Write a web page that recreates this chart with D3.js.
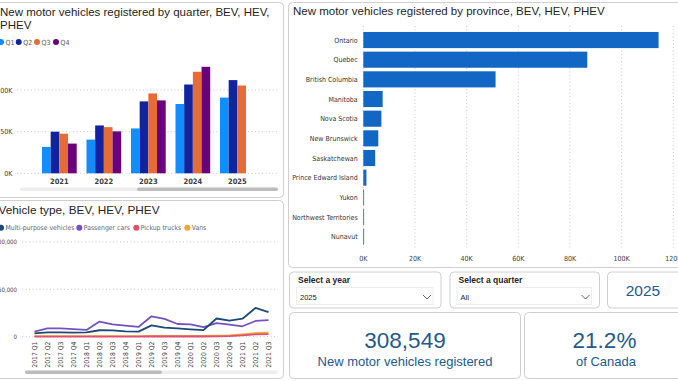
<!DOCTYPE html>
<html><head><meta charset="utf-8">
<script src="https://cdn.jsdelivr.net/npm/d3@7"></script>
<style>
html,body{margin:0;padding:0;background:#fff;overflow:hidden;}
svg{display:block;}
</style></head><body>
<svg id="c" width="678" height="381"></svg>
<script>
// ---------- DATA ----------
const years = ["2021","2022","2023","2024","2025"];
const quarters = ["Q1","Q2","Q3","Q4"];
const q1Values = [31700, 40500, 53900, 83300, 91000];
const q2Values = [50000, 57500, 86400, 106700, 112000];
const q3Values = [47600, 55500, 96000, 122000, 105500];
const q4Values = [35700, 50400, 87600, 128000, null];
const quarterTicks = [0, 50000, 100000];

const provinces = ["Ontario","Quebec","British Columbia","Manitoba","Nova Scotia","New Brunswick","Saskatchewan","Prince Edward Island","Yukon","Northwest Territories","Nunavut"];
const provinceValues = [114300, 86700, 51200, 7500, 7000, 5800, 4600, 1200, 300, 200, 150];
const provinceTicks = [0, 20000, 40000, 60000, 80000, 100000, 120000];

const periods = ["2017 Q1","2017 Q2","2017 Q3","2017 Q4","2018 Q1","2018 Q2","2018 Q3","2018 Q4","2019 Q1","2019 Q2","2019 Q3","2019 Q4","2020 Q1","2020 Q2","2020 Q3","2020 Q4","2021 Q1","2021 Q2","2021 Q3"];
const vehicleTypes = ["Multi-purpose vehicles","Passenger cars","Pickup trucks","Vans"];
const multiPurpose = [3500, 4600, 4600, 4300, 4600, 6800, 6700, 5600, 5300, 12000, 9600, 8800, 7800, 6900, 19200, 17000, 19000, 30300, 26000];
const passengerCars = [5400, 8800, 8700, 7900, 7100, 16000, 13000, 11600, 10300, 21500, 18800, 13400, 13000, 10200, 14300, 12800, 11000, 16600, 17400];
const pickupTrucks = [100, 100, 100, 100, 100, 150, 150, 150, 150, 200, 200, 200, 200, 200, 300, 600, 1500, 2500, 2800];
const vans = [600, 600, 600, 600, 600, 700, 700, 700, 700, 800, 800, 800, 800, 800, 1000, 1500, 2500, 3800, 4200];
const lineTicks = [0, 50000, 100000];

const kpiTotal = 308549;
const kpiShare = "21.2%";
const selectedYear = "2025";
const selectedQuarter = "All";

// ---------- STYLE ----------
const titleFont = "'Liberation Sans', Arial, sans-serif";
const axisFont = "'Liberation Sans Narrow', 'DejaVu Sans Condensed', 'Liberation Sans', sans-serif";
const qColors = ["#118DFF","#12239E","#E66C37","#6B007B"];
const typeColors = ["#1A4A78","#7651C4","#E0506E","#F3A530"];
const kpiColor = "#255A8B";
const borderColor = "#cfcfcf";
const gridColor = "#c8c8c8";
const labelColor = "#404040";

const svg = d3.select("#c");
svg.append("rect").attr("width",678).attr("height",381).attr("fill","#fff");

function panel(x,y,w,h){
  svg.append("rect").attr("x",x+0.5).attr("y",y+0.5).attr("width",w).attr("height",h)
    .attr("rx",4).attr("fill","#fff").attr("stroke",borderColor).attr("stroke-width",1);
}

// ================= TOP-LEFT: by quarter =================
panel(-6, 2, 289, 195);
const tl = svg.append("g");
tl.append("text").attr("x",0).attr("y",15.5).attr("font-family",titleFont).attr("font-size",11.5)
  .attr("fill","#252423").text("New motor vehicles registered by quarter, BEV, HEV,");
tl.append("text").attr("x",0).attr("y",28.5).attr("font-family",titleFont).attr("font-size",11.5)
  .attr("fill","#252423").text("PHEV");

const legX = [1, 18.7, 37, 56];
quarters.forEach((q,i)=>{
  tl.append("circle").attr("cx",legX[i]).attr("cy",42).attr("r",3).attr("fill",qColors[i]);
  tl.append("text").attr("x",legX[i]+4.5).attr("y",44.5).attr("font-family",axisFont)
    .attr("font-size",7).attr("fill","#555").text(q);
});

const xYear = d3.scaleBand().domain(years).range([37.1, 259.6]).paddingInner(0.22).paddingOuter(0.11);
const xQ = d3.scaleBand().domain(quarters).range([0, xYear.bandwidth()]);
const yQ = d3.scaleLinear().domain([0, 140000]).range([173.3, 56.8]);

quarterTicks.forEach(t=>{
  tl.append("line").attr("x1",17).attr("x2",278).attr("y1",yQ(t)).attr("y2",yQ(t))
    .attr("stroke",gridColor).attr("stroke-dasharray","1,2.5").attr("stroke-width",1);
  tl.append("text").attr("x",12.5).attr("y",yQ(t)+2.5).attr("text-anchor","end")
    .attr("font-family",axisFont).attr("font-size",7).attr("fill",labelColor)
    .text(d3.format("d")(t/1000)+"K");
});
const qSeries = [q1Values,q2Values,q3Values,q4Values];
years.forEach((yr,yi)=>{
  quarters.forEach((q,qi)=>{
    const v = qSeries[qi][yi];
    if(v==null) return;
    tl.append("rect").attr("x",xYear(yr)+xQ(q)).attr("y",yQ(v))
      .attr("width",xQ.bandwidth()).attr("height",yQ(0)-yQ(v)).attr("fill",qColors[qi]);
  });
  tl.append("text").attr("x",xYear(yr)+xYear.bandwidth()/2).attr("y",183.5).attr("text-anchor","middle")
    .attr("font-family",axisFont).attr("font-size",7.5).attr("font-weight","bold").attr("fill",labelColor).text(yr);
});
// scrollbar
tl.append("rect").attr("x",20).attr("y",187.5).attr("width",258).attr("height",3.5).attr("rx",1.75).attr("fill","#eeeeee");
tl.append("rect").attr("x",137).attr("y",187.5).attr("width",141).attr("height",3.5).attr("rx",1.75).attr("fill","#bdbdbd");

// ================= BOTTOM-LEFT: vehicle type =================
panel(-6, 200, 289, 178);
const bl = svg.append("g");
bl.append("text").attr("x",-1.5).attr("y",213.5).attr("font-family",titleFont).attr("font-size",11.8)
  .attr("fill","#252423").text("Vehicle type, BEV, HEV, PHEV");
const legX2 = [1, 79.3, 136.3, 187.3];
vehicleTypes.forEach((t,i)=>{
  bl.append("circle").attr("cx",legX2[i]).attr("cy",227.7).attr("r",3).attr("fill",typeColors[i]);
  bl.append("text").attr("x",legX2[i]+4.5).attr("y",230.2).attr("font-family",axisFont)
    .attr("font-size",6.8).attr("fill","#666").text(t);
});
const xP = d3.scalePoint().domain(periods).range([34.5, 268.5]);
const yL = d3.scaleLinear().domain([0, 100000]).range([336.7, 241.9]);
lineTicks.forEach(t=>{
  bl.append("line").attr("x1",22).attr("x2",278).attr("y1",yL(t)).attr("y2",yL(t))
    .attr("stroke",gridColor).attr("stroke-dasharray","1,2.5").attr("stroke-width",1);
  bl.append("text").attr("x",17).attr("y",yL(t)+2.5).attr("text-anchor","end")
    .attr("font-family",axisFont).attr("font-size",6).attr("fill",labelColor)
    .text(d3.format(",")(t));
});
const seriesL = [multiPurpose, passengerCars, pickupTrucks, vans];
const lineGen = d3.line().x((d,i)=>xP(periods[i])).y(d=>yL(d));
[3,2,1,0].forEach(i=>{
  bl.append("path").attr("d",lineGen(seriesL[i])).attr("fill","none")
    .attr("stroke",typeColors[i]).attr("stroke-width",1.8).attr("stroke-linejoin","round");
});
periods.forEach(p=>{
  bl.append("text").attr("transform",`translate(${xP(p)+2.5},341.5) rotate(-90)`)
    .attr("text-anchor","end").attr("font-family",axisFont).attr("font-size",6.8)
    .attr("fill",labelColor).text(p);
});
bl.append("rect").attr("x",25).attr("y",370.5).attr("width",253).attr("height",3.5).attr("rx",1.75).attr("fill","#eeeeee");
bl.append("rect").attr("x",25).attr("y",370.5).attr("width",137).attr("height",3.5).attr("rx",1.75).attr("fill","#bdbdbd");

// ================= TOP-RIGHT: by province =================
panel(288, 2, 394, 265);
const tr = svg.append("g");
tr.append("text").attr("x",293).attr("y",15).attr("font-family",titleFont).attr("font-size",11.5)
  .attr("fill","#252423").text("New motor vehicles registered by province, BEV, HEV, PHEV");
const xPr = d3.scaleLinear().domain([0,120000]).range([363.3, 673.3]);
const yPr = d3.scaleBand().domain(provinces).range([30.2, 246.5]).paddingInner(0.18).paddingOuter(0.09);
provinceTicks.forEach(t=>{
  tr.append("line").attr("x1",xPr(t)).attr("x2",xPr(t)).attr("y1",26).attr("y2",250)
    .attr("stroke",gridColor).attr("stroke-dasharray","1,2.5").attr("stroke-width",1);
  tr.append("text").attr("x",xPr(t)).attr("y",261).attr("text-anchor","middle")
    .attr("font-family",axisFont).attr("font-size",7).attr("fill",labelColor)
    .text(d3.format("d")(t/1000)+"K");
});
provinces.forEach((p,i)=>{
  tr.append("rect").attr("x",xPr(0)).attr("y",yPr(p)).attr("width",Math.max(0.8,xPr(provinceValues[i])-xPr(0)))
    .attr("height",yPr.bandwidth()).attr("fill","#1267C4");
  tr.append("text").attr("x",357.7).attr("y",yPr(p)+yPr.bandwidth()/2+2.5).attr("text-anchor","end")
    .attr("font-family",axisFont).attr("font-size",7).attr("fill","#333").text(p);
});

// ================= BOTTOM-RIGHT: slicers & cards =================
const br = svg.append("g");
function slicer(x,w,label,value){
  br.append("rect").attr("x",x+0.5).attr("y",272).attr("width",w).attr("height",36).attr("rx",4)
    .attr("fill","#fff").attr("stroke",borderColor);
  br.append("rect").attr("x",x+7.5).attr("y",287.5).attr("width",w-15).attr("height",17)
    .attr("fill","#fff").attr("stroke","#eeeeee");
  br.append("text").attr("x",x+9).attr("y",282.5).attr("font-family",titleFont).attr("font-size",8.5)
    .attr("font-weight","bold").attr("fill","#252423").text(label);
  br.append("text").attr("x",x+11).attr("y",299.5).attr("font-family",titleFont).attr("font-size",7.5)
    .attr("fill","#252423").text(value);
  const cx = x+w-13.5;
  br.append("path").attr("d",`M${cx-4},295 L${cx},299 L${cx+4},295`).attr("fill","none")
    .attr("stroke","#555").attr("stroke-width",0.9);
}
slicer(289, 151.5, "Select a year", selectedYear);
slicer(449.5, 149.5, "Select a quarter", selectedQuarter);

br.append("rect").attr("x",607.5).attr("y",272).attr("width",90).attr("height",36).attr("rx",4)
  .attr("fill","#fff").attr("stroke",borderColor);
br.append("text").attr("x",643).attr("y",295.5).attr("text-anchor","middle").attr("font-family",titleFont)
  .attr("font-size",15.5).attr("fill",kpiColor).text(selectedYear);

br.append("rect").attr("x",289.5).attr("y",312.5).attr("width",231).attr("height",66).attr("rx",4)
  .attr("fill","#fff").attr("stroke",borderColor);
br.append("text").attr("x",405).attr("y",348.3).attr("text-anchor","middle").attr("font-family",titleFont)
  .attr("font-size",22.5).attr("fill",kpiColor).text(d3.format(",")(kpiTotal));
br.append("text").attr("x",405).attr("y",366).attr("text-anchor","middle").attr("font-family",titleFont)
  .attr("font-size",13).attr("fill",kpiColor).text("New motor vehicles registered");

br.append("rect").attr("x",524.5).attr("y",312.5).attr("width",162).attr("height",66).attr("rx",4)
  .attr("fill","#fff").attr("stroke",borderColor);
br.append("text").attr("x",604.5).attr("y",348.3).attr("text-anchor","middle").attr("font-family",titleFont)
  .attr("font-size",22.5).attr("fill",kpiColor).text(kpiShare);
br.append("text").attr("x",606).attr("y",366).attr("text-anchor","middle").attr("font-family",titleFont)
  .attr("font-size",13).attr("fill",kpiColor).text("of Canada");
</script>
</body></html>
